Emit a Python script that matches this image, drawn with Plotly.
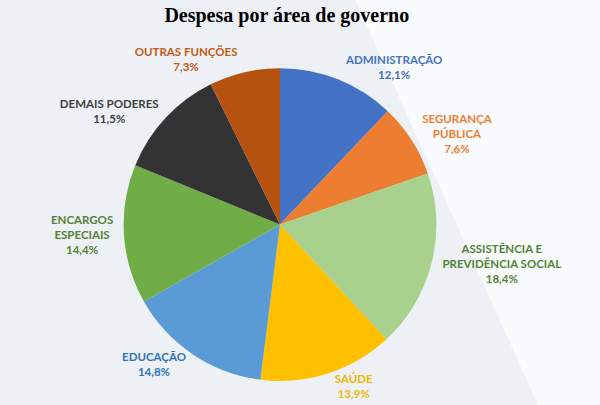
import plotly.graph_objects as go

# Fatias em ordem horária a partir das 12h
categorias = [
    "ADMINISTRAÇÃO", "SEGURANÇA PÚBLICA", "ASSISTÊNCIA E PREVIDÊNCIA SOCIAL",
    "SAÚDE", "EDUCAÇÃO", "ENCARGOS ESPECIAIS", "DEMAIS PODERES",
    "OUTRAS FUNÇÕES",
]
rotulos = [
    "ADMINISTRAÇÃO", "SEGURANÇA<br>PÚBLICA",
    "ASSISTÊNCIA E<br>PREVIDÊNCIA SOCIAL", "SAÚDE", "EDUCAÇÃO",
    "ENCARGOS<br>ESPECIAIS", "DEMAIS PODERES", "OUTRAS FUNÇÕES",
]
percentuais = [12.1, 7.6, 18.4, 13.9, 14.8, 14.4, 11.5, 7.3]

cores = ["#4472c4", "#ed7d31", "#a9d18e", "#ffc000",
         "#5b9bd5", "#70ad47", "#333333", "#b5520f"]
cores_texto = ["#4472c4", "#ed7d31", "#548235", "#f2b600",
               "#2e75b6", "#548235", "#404040", "#c55a11"]

fig = go.Figure(go.Pie(
    labels=categorias,
    values=percentuais,
    text=rotulos,
    texttemplate="<b>%{text}<br>%{value:.1f}%</b>",
    textposition="outside",
    textfont=dict(family="Lato", size=11.5, color=cores_texto),
    marker=dict(colors=cores, line=dict(width=0)),
    sort=False,
    direction="clockwise",
    rotation=0,
    showlegend=False,
    hoverinfo="label+percent",
    domain=dict(x=[0.19, 0.81], y=[0.05, 0.83]),
))

fig.update_layout(
    width=600, height=405,
    margin=dict(l=0, r=0, t=0, b=0),
    separators=",.",
    paper_bgcolor="#edf1f6",
    title=dict(
        text="<b>Despesa por área de governo</b>",
        x=0.478, y=0.962, xanchor="center", yanchor="middle",
        font=dict(family="Liberation Serif", size=20, color="#000000"),
    ),
    shapes=[dict(
        type="path", xref="paper", yref="paper", layer="below",
        path="M 0.628 1.02 L 1.1 1.02 L 1.1 -0.1 L 0.99 -0.1 Z",
        fillcolor="#fafbfd", line=dict(width=0),
    )],
)

# sem margem no body, para a página caber na janela sem barra de rolagem
fig.write_html("out.html", config={"displayModeBar": False},
               post_script="document.body.style.margin='0';"
                           "document.body.style.overflow='hidden';")
